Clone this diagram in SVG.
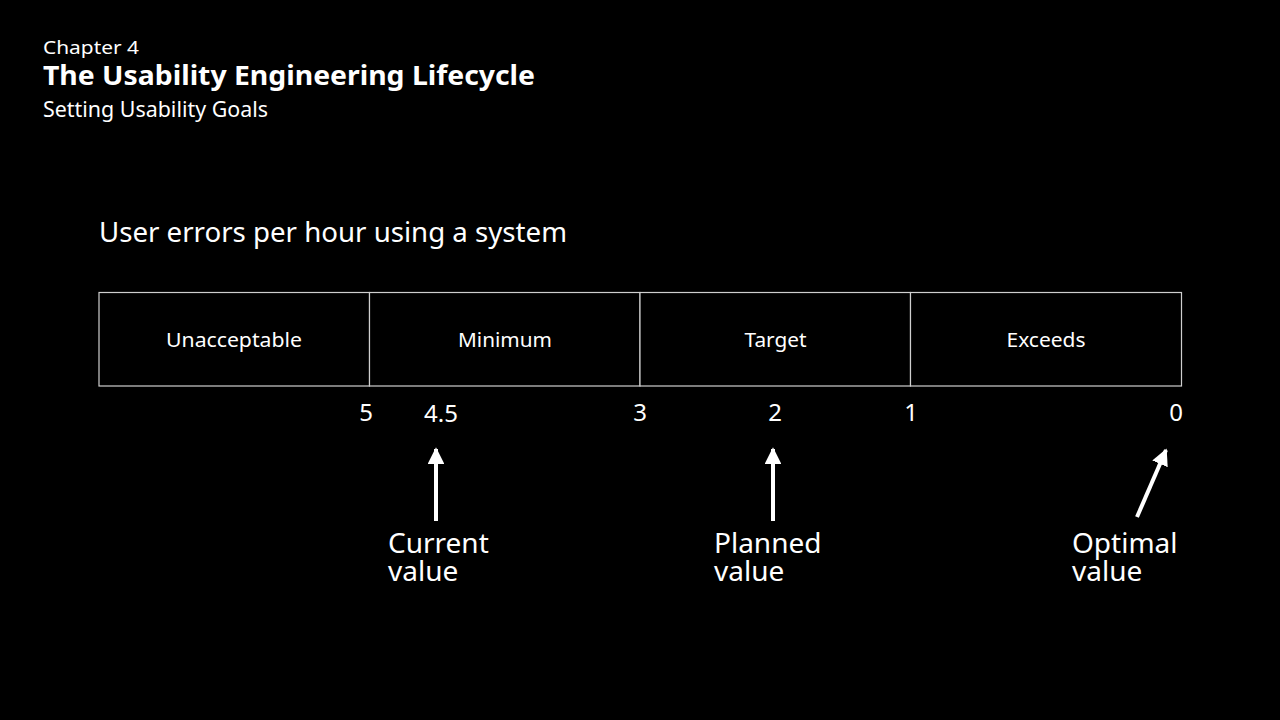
<svg xmlns="http://www.w3.org/2000/svg" width="1280" height="720" viewBox="0 0 1280 720">
<style>
text{font-family:"Noto Sans","Open Sans","Liberation Sans",sans-serif;fill:#fff}
.cell{fill:#000;stroke:#cfcfcf;stroke-width:1.2}
.lab{font-size:20px;text-anchor:middle}
.num{font-size:24px;text-anchor:middle}
.ann{font-size:28px}
.arr{stroke:#fff;stroke-width:4;fill:none}
</style>
<defs>
<marker id="ah" viewBox="0 0 10 10" refX="9" refY="5" markerWidth="4.2" markerHeight="4.2" orient="auto" markerUnits="strokeWidth">
<path d="M0,0 L10,5 L0,10 z" fill="#fff"/>
</marker>
</defs>
<rect width="1280" height="720" fill="#000"/>
<g id="header">
<text x="43" y="54" font-size="18" textLength="96" lengthAdjust="spacingAndGlyphs">Chapter 4</text>
<text x="43" y="85" font-size="27" font-weight="bold" textLength="492" lengthAdjust="spacingAndGlyphs">The Usability Engineering Lifecycle</text>
<text x="43" y="117" font-size="21" textLength="225" lengthAdjust="spacingAndGlyphs">Setting Usability Goals</text>
</g>
<text id="heading" x="99" y="242" font-size="28" textLength="468" lengthAdjust="spacingAndGlyphs">User errors per hour using a system</text>
<g id="cell-unacceptable">
<rect class="cell" x="99" y="292.5" width="270.5" height="93.5"/>
<text class="lab" x="234" y="347" textLength="136" lengthAdjust="spacingAndGlyphs">Unacceptable</text>
</g>
<g id="cell-minimum">
<rect class="cell" x="369.5" y="292.5" width="270.5" height="93.5"/>
<text class="lab" x="505" y="347" textLength="94" lengthAdjust="spacingAndGlyphs">Minimum</text>
</g>
<g id="cell-target">
<rect class="cell" x="640" y="292.5" width="270.5" height="93.5"/>
<text class="lab" x="775.5" y="347" textLength="62" lengthAdjust="spacingAndGlyphs">Target</text>
</g>
<g id="cell-exceeds">
<rect class="cell" x="910.5" y="292.5" width="271" height="93.5"/>
<text class="lab" x="1046" y="347" textLength="79" lengthAdjust="spacingAndGlyphs">Exceeds</text>
</g>
<g id="scale">
<text class="num" x="366" y="421">5</text>
<text class="num" x="441" y="422">4.5</text>
<text class="num" x="640" y="421">3</text>
<text class="num" x="775" y="421">2</text>
<text class="num" x="911" y="421">1</text>
<text class="num" x="1176" y="421">0</text>
</g>
<g id="connectors">
<line class="arr" x1="436" y1="521" x2="436" y2="449" marker-end="url(#ah)"/>
<line class="arr" x1="773" y1="521" x2="773" y2="449" marker-end="url(#ah)"/>
<line class="arr" x1="1137" y1="517" x2="1166" y2="450" marker-end="url(#ah)"/>
</g>
<g id="label-current">
<text class="ann" x="388" y="553">Current</text>
<text class="ann" x="388" y="581">value</text>
</g>
<g id="label-planned">
<text class="ann" x="714" y="553">Planned</text>
<text class="ann" x="714" y="581">value</text>
</g>
<g id="label-optimal">
<text class="ann" x="1072" y="553">Optimal</text>
<text class="ann" x="1072" y="581">value</text>
</g>
</svg>
